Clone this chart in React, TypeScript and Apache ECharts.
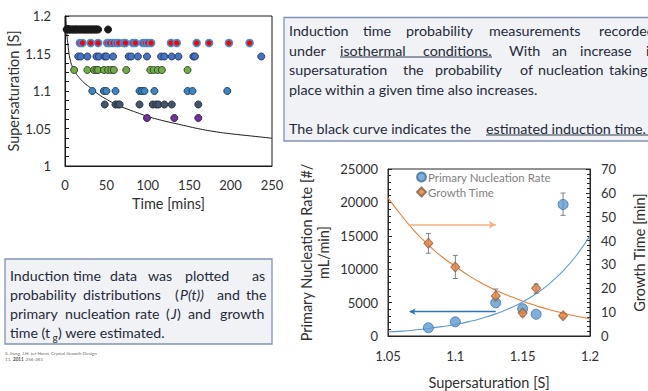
import React, { useEffect, useRef } from 'react';
import * as echarts from 'echarts';

// ---------- Top-left chart: induction times ----------
const timeTickValues = [0, 50, 100, 150, 200, 250];
const supersatTickValues = [1, 1.05, 1.1, 1.15, 1.2];

const levelBlack = 1.182;
const levelRed = 1.164;
const levelBlue = 1.146;
const levelGreen = 1.128;
const levelLightBlue = 1.1;
const levelSlate = 1.082;
const levelPurple = 1.064;

const timesBlack = [2, 3, 5, 6, 7, 9, 10, 12, 13, 14, 16, 17, 19, 20, 22, 23, 25, 26, 28, 29, 31, 32, 34, 35, 37, 38, 40, 52];
const timesRed = [18, 21, 31, 40, 51, 54, 58, 62, 65, 71, 73, 82, 85, 94, 97, 100, 104, 128, 135, 159, 174, 198, 223];
const timesBlue = [16, 19, 27, 38, 41, 48, 50, 58, 77, 80, 88, 99, 116, 120, 129, 137, 155, 157, 237];
const timesGreen = [11, 27, 35, 38, 40, 47, 52, 56, 59, 74, 103, 107, 112, 117, 148];
const timesLightBlue = [33, 47, 50, 61, 90, 93, 96, 108, 148, 154, 196];
const timesSlate = [48, 61, 64, 66, 90, 106, 110, 113, 120, 129, 161];
const timesPurple = [99, 132, 161];

const curveTime = [1, 2, 4, 6, 9, 13, 17, 23, 31, 40, 50, 62, 75, 90, 100, 120, 140, 160, 180, 200, 225, 250];
const curveS = [1.2, 1.18, 1.158, 1.143, 1.132, 1.124, 1.118, 1.111, 1.104, 1.096, 1.089, 1.082, 1.076, 1.07, 1.066, 1.06, 1.055, 1.05, 1.046, 1.043, 1.04, 1.037];

// ---------- Bottom-right chart: nucleation rate and growth time ----------
const sValues = [1.08, 1.1, 1.13, 1.15, 1.16, 1.18];
const nucleationRate = [1230, 2120, 4970, 4090, 3250, 19690];
const rateErrS = [1.18];
const rateErrLow = [18060];
const rateErrHigh = [21400];
const growthTime = [38.9, 28.9, 16.8, 9.6, 20.0, 8.5];
const growthLow = [34.7, 24.1, 14.5, 8.3, 17.9, 7.6];
const growthHigh = [43.0, 33.8, 19.7, 11.0, 21.8, 9.6];

const fitS = [1.05, 1.06, 1.07, 1.08, 1.09, 1.1, 1.11, 1.12, 1.13, 1.14, 1.15, 1.16, 1.17, 1.18, 1.19, 1.2];
const growthFit = [57.9, 50.5, 43.8, 38.2, 33.2, 29.2, 25.3, 22.0, 19.2, 16.8, 14.6, 12.7, 11.0, 9.6, 8.3, 7.3];
const rateFit = [590, 730, 910, 1130, 1400, 1730, 2150, 2670, 3310, 4110, 5100, 6330, 7850, 9740, 12090, 15000];

const growthArrowS = [1.065, 1.13];
const growthArrowLevel = 46.6;
const rateArrowS = [1.13, 1.066];
const rateArrowLevel = 3640;

const FONT = 'Lato, "Open Sans", sans-serif';
const TEXT_DARK = '#1e2a3b';

function rowData(times: number[], level: number) {
  return times.map((t) => [t, level]);
}

function wordEls(items: [string, number][], y: number, size: number, extra: any = {}) {
  return items.map(([w, x]) => ({
    type: 'text',
    x,
    y,
    silent: true,
    style: {
      text: w,
      fill: TEXT_DARK,
      fontSize: size,
      fontFamily: FONT,
      align: 'left',
      textAlign: 'left',
      verticalAlign: 'middle',
      textVerticalAlign: 'middle',
      ...extra,
    },
  }));
}

function errorRender(params: any, api: any) {
  const x = api.value(0);
  const lo = api.coord([x, api.value(1)]);
  const hi = api.coord([x, api.value(2)]);
  const cap = 2.5;
  const st = { stroke: '#808080', lineWidth: 1 };
  return {
    type: 'group',
    children: [
      { type: 'line', shape: { x1: lo[0], y1: lo[1], x2: hi[0], y2: hi[1] }, style: st },
      { type: 'line', shape: { x1: lo[0] - cap, y1: lo[1], x2: lo[0] + cap, y2: lo[1] }, style: st },
      { type: 'line', shape: { x1: hi[0] - cap, y1: hi[1], x2: hi[0] + cap, y2: hi[1] }, style: st },
    ],
  };
}

export default function App() {
  const ref = useRef<HTMLDivElement>(null);

  useEffect(() => {
    if (!ref.current) return;
    const chart = echarts.init(ref.current, undefined, { renderer: 'svg' });

    const axisLabelStyle = { color: '#303030', fontSize: 13, fontFamily: FONT };
    const nameStyle = { color: '#303030', fontSize: 14.5, fontFamily: FONT };

    const dot = (color: string, border: string, bw = 1) => ({
      color,
      borderColor: border,
      borderWidth: bw,
      opacity: 1,
    });

    const topSeries: any[] = [
      { name: 'black', data: rowData(timesBlack, levelBlack), itemStyle: dot('#1a1a1a', '#1a1a1a') },
      { name: 'red', data: rowData(timesRed, levelRed), itemStyle: dot('#ff0000', '#3d8fd8', 1.6) },
      { name: 'blue', data: rowData(timesBlue, levelBlue), itemStyle: dot('#4472c4', '#2a3f63') },
      { name: 'green', data: rowData(timesGreen, levelGreen), itemStyle: dot('#70ad47', '#3a4a2c') },
      { name: 'lightblue', data: rowData(timesLightBlue, levelLightBlue), itemStyle: dot('#3a87c8', '#2a3f55') },
      { name: 'slate', data: rowData(timesSlate, levelSlate), itemStyle: dot('#44546a', '#2a3340') },
      { name: 'purple', data: rowData(timesPurple, levelPurple), itemStyle: dot('#7030a0', '#3a2a45') },
    ].map((s) => ({
      ...s,
      type: 'scatter',
      xAxisIndex: 0,
      yAxisIndex: 0,
      symbol: 'circle',
      symbolSize: 7,
      z: 3,
      silent: true,
    }));

    const graphic: any[] = [];

    // Top-right text box
    graphic.push({
      type: 'rect',
      shape: { x: 284, y: 17.5, width: 380, height: 123.5 },
      style: { fill: '#f1f2f5', stroke: '#8093b5', lineWidth: 1.3 },
      silent: true,
    });
    const trSize = 14.3;
    graphic.push(
      ...wordEls([['Induction', 289], ['time', 363], ['probability', 406], ['measurements', 489], ['recorded', 599]], 30.5, trSize),
      ...wordEls([['under', 289], ['isothermal', 340], ['conditions.', 423], ['With', 509], ['an', 552], ['increase', 580], ['in', 646]], 50, trSize),
      ...wordEls([['supersaturation', 289], ['the', 403], ['probability', 435], ['of', 520], ['nucleation', 538], ['taking', 609]], 69.5, trSize),
      ...wordEls([['place within a given time also increases.', 289]], 89, trSize),
      ...wordEls([['The black curve indicates the', 289], ['estimated induction time.', 486]], 128, trSize)
    );
    graphic.push(
      { type: 'line', shape: { x1: 340, y1: 57, x2: 492, y2: 57 }, style: { stroke: TEXT_DARK, lineWidth: 0.9 }, silent: true },
      { type: 'line', shape: { x1: 486, y1: 135, x2: 660, y2: 135 }, style: { stroke: TEXT_DARK, lineWidth: 0.9 }, silent: true }
    );

    // Bottom-left text box
    graphic.push({
      type: 'rect',
      shape: { x: 5, y: 259, width: 267, height: 85 },
      style: { fill: '#f1f2f5', stroke: '#8093b5', lineWidth: 1.3 },
      silent: true,
    });
    const blSize = 14.2;
    graphic.push(
      ...wordEls([['Induction', 10], ['time', 73], ['data', 110], ['was', 148], ['plotted', 185], ['as', 252]], 275, blSize),
      ...wordEls([['probability', 10], ['distributions', 83], ['(', 175]], 294, blSize),
      ...wordEls([['P(t))', 180]], 294, blSize, { fontStyle: 'italic' }),
      ...wordEls([['and', 217], ['the', 246]], 294, blSize),
      ...wordEls([['primary', 10], ['nucleation', 65], ['rate', 135], ['(', 166]], 313, blSize),
      ...wordEls([['J', 171]], 313, blSize, { fontStyle: 'italic' }),
      ...wordEls([[')', 177], ['and', 188], ['growth', 220]], 313, blSize),
      ...wordEls([['time (t', 10]], 332, blSize),
      ...wordEls([['g', 52.5]], 336.5, 10),
      ...wordEls([[') were estimated.', 58]], 332, blSize)
    );

    // Citation
    const citeStyle = { fill: '#6b6b6b', fontSize: 4.6, fontFamily: FONT, verticalAlign: 'middle', textVerticalAlign: 'middle' };
    graphic.push(
      { type: 'text', x: 5, y: 352.5, silent: true, style: { ...citeStyle, text: 'S. Jiang, J.H. ter Horst, Crystal Growth Design' } },
      { type: 'text', x: 5, y: 358.5, silent: true, style: { ...citeStyle, text: '11,' } },
      { type: 'text', x: 13, y: 358.5, silent: true, style: { ...citeStyle, text: '2011', fill: '#4a4a4a', fontWeight: 'bold' } },
      { type: 'text', x: 25.5, y: 358.5, silent: true, style: { ...citeStyle, text: '256-261' } }
    );

    const option: any = {
      animation: false,
      backgroundColor: '#ffffff',
      textStyle: { fontFamily: FONT },
      grid: [
        { left: 65, top: 16, width: 207, height: 150, show: true, borderColor: '#1a1a1a', borderWidth: 1, backgroundColor: 'transparent' },
        { left: 388, top: 169, width: 217, height: 169, show: true, borderColor: '#262626', borderWidth: 1, backgroundColor: 'transparent' },
      ],
      legend: {
        left: 416,
        top: 171,
        orient: 'vertical',
        itemWidth: 9,
        itemHeight: 9,
        itemGap: 3,
        padding: 0,
        selectedMode: false,
        textStyle: { color: '#7f7f7f', fontSize: 11.5, fontFamily: FONT, padding: [0, 0, 0, -3] },
        data: [
          { name: 'Primary Nucleation Rate', icon: 'circle' },
          { name: 'Growth Time', icon: 'diamond' },
        ],
      },
      xAxis: [
        {
          type: 'value', gridIndex: 0, min: 0, max: 250, interval: 50,
          name: 'Time [mins]', nameLocation: 'middle', nameGap: 30, nameTextStyle: nameStyle,
          axisLine: { show: true, lineStyle: { color: '#1a1a1a' } },
          axisTick: { show: false },
          splitLine: { show: false },
          axisLabel: { ...axisLabelStyle, margin: 12, formatter: (v: number) => (timeTickValues.includes(v) ? String(v) : '') },
        },
        {
          type: 'value', gridIndex: 1, min: 1.05, max: 1.2, interval: 0.05,
          name: 'Supersaturation [S]', nameLocation: 'middle', nameGap: 39, nameTextStyle: nameStyle,
          axisLine: { show: true, lineStyle: { color: '#262626' } },
          axisTick: { show: false },
          splitLine: { show: false },
          axisLabel: { ...axisLabelStyle, margin: 13, formatter: (v: number) => String(+v.toFixed(2)) },
        },
      ],
      yAxis: [
        {
          type: 'value', gridIndex: 0, min: 1, max: 1.2, interval: 0.05,
          name: 'Supersaturation [S]', nameLocation: 'middle', nameGap: 42, nameRotate: 90, nameTextStyle: nameStyle,
          axisLine: { show: true, lineStyle: { color: '#1a1a1a' } },
          axisTick: { show: true, inside: true, length: 4, lineStyle: { color: '#1a1a1a' } },
          minorTick: { show: true, splitNumber: 4, length: 4, lineStyle: { color: '#1a1a1a' } },
          splitLine: { show: false },
          axisLabel: { ...axisLabelStyle, margin: 14, formatter: (v: number) => (supersatTickValues.some((t) => Math.abs(t - v) < 1e-9) ? String(+v.toFixed(2)) : '') },
        },
        {
          type: 'value', gridIndex: 1, min: 0, max: 25000, interval: 5000,
          name: 'Primary Nucleation Rate [#/\nmL/min]', nameLocation: 'middle', nameGap: 56, nameRotate: 90,
          nameTextStyle: { ...nameStyle, lineHeight: 17 },
          axisLine: { show: true, lineStyle: { color: '#262626' } },
          axisTick: { show: true, inside: true, length: 4, lineStyle: { color: '#262626' } },
          minorTick: { show: true, splitNumber: 5, length: 3, lineStyle: { color: '#262626' } },
          splitLine: { show: false },
          axisLabel: { ...axisLabelStyle, margin: 10, formatter: (v: number) => String(v) },
        },
        {
          type: 'value', gridIndex: 1, position: 'right', min: 0, max: 70, interval: 10,
          name: 'Growth Time [min]', nameLocation: 'middle', nameGap: 42, nameRotate: 90, nameTextStyle: nameStyle,
          axisLine: { show: true, lineStyle: { color: '#262626' } },
          axisTick: { show: true, inside: true, length: 4, lineStyle: { color: '#262626' } },
          minorTick: { show: true, splitNumber: 5, length: 3, lineStyle: { color: '#262626' } },
          splitLine: { show: false },
          axisLabel: { ...axisLabelStyle, margin: 11, formatter: (v: number) => String(v) },
        },
      ],
      series: [
        {
          type: 'line', name: 'curve', xAxisIndex: 0, yAxisIndex: 0,
          data: curveTime.map((t, i) => [t, curveS[i]]),
          smooth: true, showSymbol: false, silent: true, z: 2,
          lineStyle: { color: '#1a1a1a', width: 1 },
        },
        ...topSeries,
        {
          type: 'line', name: 'growthFit', xAxisIndex: 1, yAxisIndex: 2,
          data: fitS.map((s, i) => [s, growthFit[i]]),
          smooth: true, showSymbol: false, silent: true, z: 1,
          lineStyle: { color: '#ed7d31', width: 1.1 },
          markLine: {
            silent: true, symbol: ['none', 'arrow'], symbolSize: [6, 7],
            label: { show: false },
            lineStyle: { color: '#f4b183', width: 1.6, type: 'solid' },
            data: [[{ coord: [growthArrowS[0], growthArrowLevel] }, { coord: [growthArrowS[1], growthArrowLevel] }]],
          },
        },
        {
          type: 'line', name: 'rateFit', xAxisIndex: 1, yAxisIndex: 1,
          data: fitS.map((s, i) => [s, rateFit[i]]),
          smooth: true, showSymbol: false, silent: true, z: 1,
          lineStyle: { color: '#5b9bd5', width: 1.1 },
          markLine: {
            silent: true, symbol: ['none', 'arrow'], symbolSize: [5, 6],
            label: { show: false },
            lineStyle: { color: '#2e75b6', width: 1.3, type: 'solid' },
            data: [[{ coord: [rateArrowS[0], rateArrowLevel] }, { coord: [rateArrowS[1], rateArrowLevel] }]],
          },
        },
        {
          type: 'custom', name: 'growthErr', xAxisIndex: 1, yAxisIndex: 2,
          data: sValues.map((s, i) => [s, growthLow[i], growthHigh[i]]),
          encode: { x: 0, y: [1, 2] },
          renderItem: errorRender, silent: true, z: 2,
        },
        {
          type: 'custom', name: 'rateErr', xAxisIndex: 1, yAxisIndex: 1,
          data: rateErrS.map((s, i) => [s, rateErrLow[i], rateErrHigh[i]]),
          encode: { x: 0, y: [1, 2] },
          renderItem: errorRender, silent: true, z: 2,
        },
        {
          type: 'scatter', name: 'Primary Nucleation Rate', xAxisIndex: 1, yAxisIndex: 1,
          data: sValues.map((s, i) => [s, nucleationRate[i]]),
          symbol: 'circle', symbolSize: 10, z: 3, silent: true,
          itemStyle: { color: '#5b9bd5', borderColor: '#41719c', borderWidth: 1 },
        },
        {
          type: 'scatter', name: 'Growth Time', xAxisIndex: 1, yAxisIndex: 2,
          data: sValues.map((s, i) => [s, growthTime[i]]),
          symbol: 'diamond', symbolSize: [9, 10], z: 4, silent: true,
          itemStyle: { color: '#ed7d31', borderColor: '#7f6050', borderWidth: 1 },
        },
      ],
      graphic,
    };

    chart.setOption(option);
    return () => chart.dispose();
  }, []);

  return (
    <div
      ref={ref}
      style={{ position: 'fixed', left: 0, top: 0, width: 648, height: 391, background: '#ffffff' }}
    />
  );
}
